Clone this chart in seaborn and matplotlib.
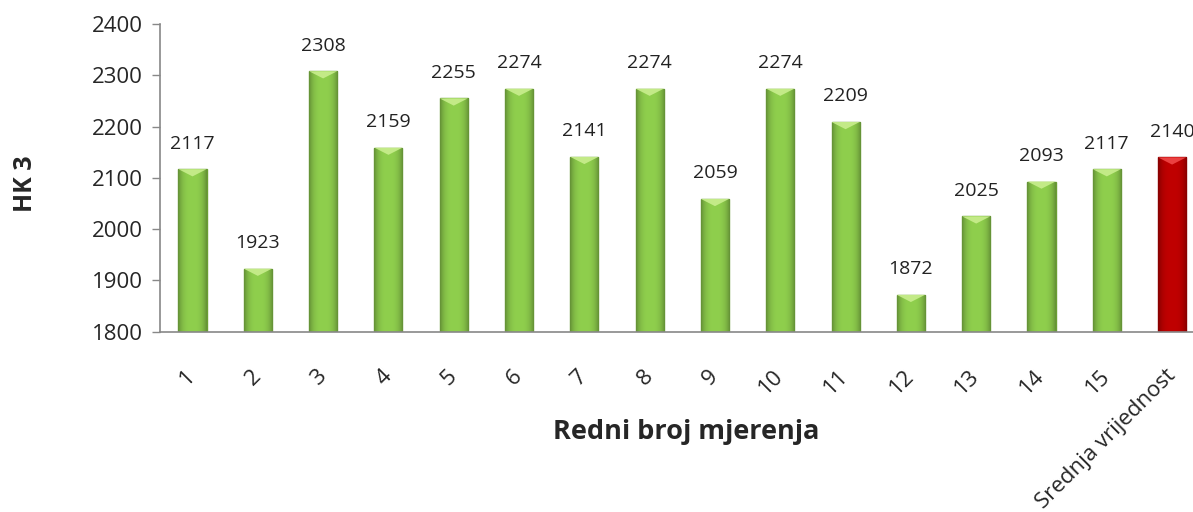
import numpy as np
import pandas as pd
import matplotlib
matplotlib.use("Agg")
import matplotlib.pyplot as plt
import seaborn as sns
from matplotlib.patches import Polygon

categories = [str(i) for i in range(1, 16)] + ["Srednja vrijednost"]
values = [2117, 1923, 2308, 2159, 2255, 2274, 2141, 2274, 2059, 2274, 2209,
          1872, 2025, 2093, 2117, 2140]
bar_colors = ["#8FCF4D"] * 15 + ["#C00000"]
edge_colors = ["#6A9E33"] * 15 + ["#8E0000"]
tip_colors = ["#C9EE8E"] * 15 + ["#F04848"]
y_ticks = [1800, 1900, 2000, 2100, 2200, 2300, 2400]

sns.set_style("white")
plt.rcParams["font.family"] = ["Open Sans", "DejaVu Sans"]

df = pd.DataFrame({"mjerenje": categories, "HK": values})

fig = plt.figure(figsize=(11.93, 5.12), dpi=100)
ax = fig.add_axes([0.134, 0.352, 0.866, 0.601])

sns.barplot(data=df, x="mjerenje", y="HK", hue="mjerenje", palette=bar_colors,
            legend=False, width=0.43, ax=ax, saturation=1)

ax.set_ylim(1800, 2400)
ax.set_xlim(-0.5, 15.32)

# Bevelled look: darker rim, side shading and a light triangle at the top
for i, patch in enumerate(ax.patches):
    patch.set_edgecolor(edge_colors[i])
    patch.set_linewidth(1.0)
    x0 = patch.get_x()
    w = patch.get_width()
    top = patch.get_y() + patch.get_height()
    grad = np.linspace(0, 1, 64)
    shade = 1 - 0.3 * (np.abs(grad - 0.5) * 2) ** 3
    base = np.array(matplotlib.colors.to_rgb(bar_colors[i]))
    img = (base[None, None, :] * shade[None, :, None]).clip(0, 1)
    im = ax.imshow(img, extent=[x0, x0 + w, 1800, top], aspect="auto",
                   zorder=patch.get_zorder() + 0.1, interpolation="bilinear")
    im.set_clip_path(patch)
    tri = Polygon([[x0, top], [x0 + w, top], [x0 + w / 2, top - 14]],
                  closed=True, facecolor=tip_colors[i], edgecolor="none",
                  alpha=0.9, zorder=patch.get_zorder() + 0.2)
    ax.add_patch(tri)
    ax.annotate(f"{values[i]}", xy=(x0 + w / 2, top), xytext=(0, 12),
                textcoords="offset points", ha="center", va="bottom",
                fontsize=14, color="#222222")

ax.set_xlim(-0.5, 15.32)
ax.set_ylim(1800, 2400)
ax.set_yticks(y_ticks)
ax.set_yticklabels([str(t) for t in y_ticks], fontsize=16)
ax.tick_params(axis="y", which="major", left=True, length=6, width=1,
               color="#888888", pad=6)
ax.tick_params(axis="x", bottom=False, pad=26)
for lbl in ax.get_xticklabels():
    lbl.set_fontsize(16)
    lbl.set_rotation(45)
    lbl.set_ha("right")
    lbl.set_va("center")
    lbl.set_rotation_mode("anchor")

for side in ["top", "right"]:
    ax.spines[side].set_visible(False)
for side in ["left", "bottom"]:
    ax.spines[side].set_color("#888888")
    ax.spines[side].set_linewidth(1.2)

ax.set_xlabel("Redni broj mjerenja", fontsize=19.5, fontweight="bold")
ax.xaxis.set_label_coords(0.509, -0.283)
ax.set_ylabel("HK 3", fontsize=18, fontweight="bold")
ax.yaxis.set_label_coords(-0.118, 0.48)

fig.savefig("out.png", dpi=100)
